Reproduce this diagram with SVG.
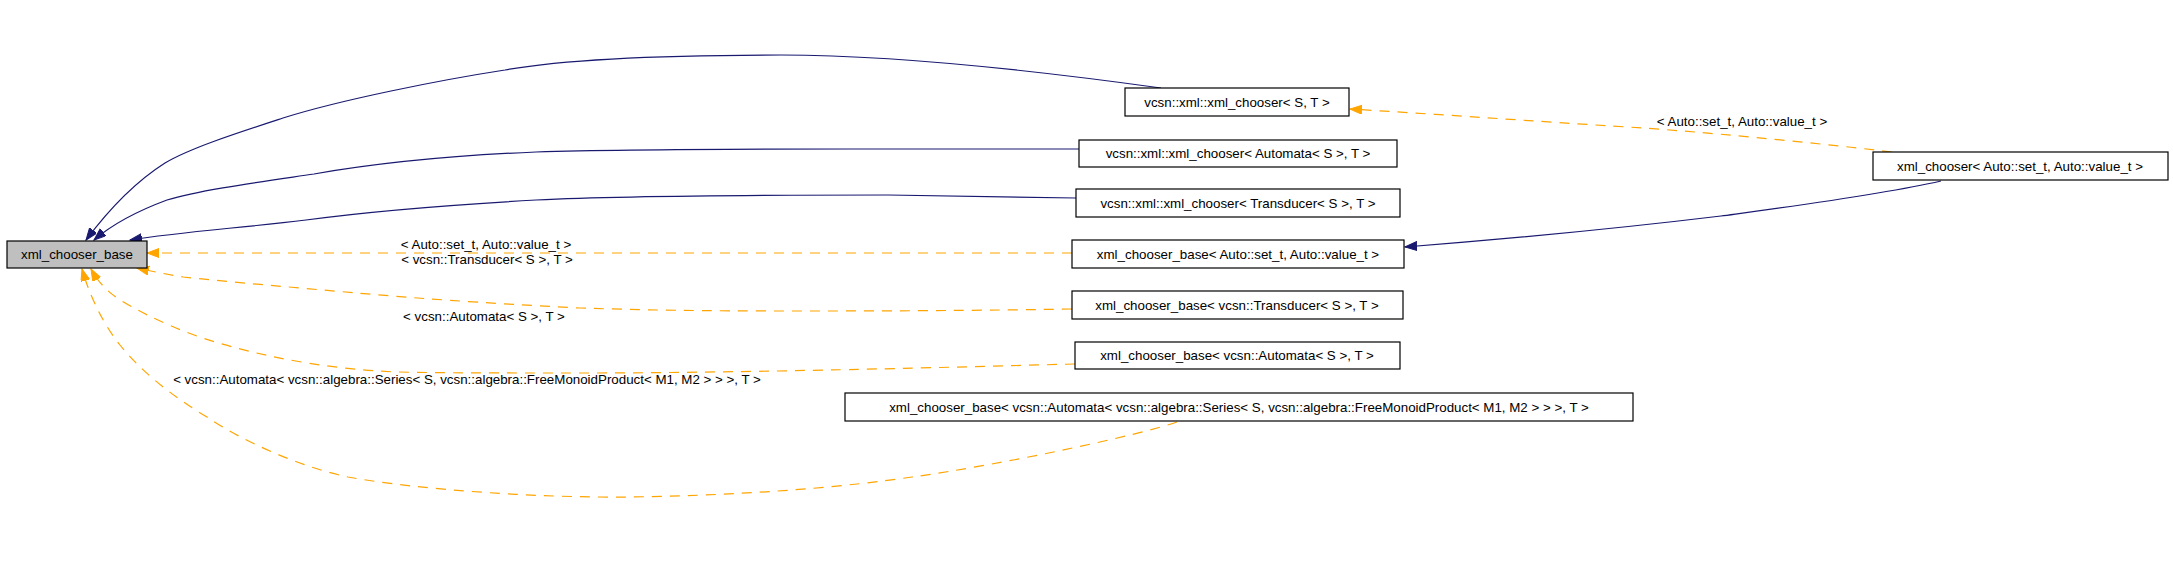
<svg xmlns="http://www.w3.org/2000/svg" width="2173" height="588" viewBox="0 0 2173 588">
<style>
.box{fill:#ffffff;stroke:#000000;stroke-width:1.2}
.root{fill:#bfbfbf;stroke:#000000;stroke-width:1.2}
.t{font-family:"Liberation Sans",Arial,sans-serif;font-size:13.33px;fill:#000000;text-anchor:middle}
.inh{fill:none;stroke:#191970;stroke-width:1.2;marker-end:url(#an)}
.tpl{fill:none;stroke:#ffa500;stroke-width:1.2;stroke-dasharray:10,8;marker-end:url(#ao)}
</style>
<defs>
<marker id="an" markerUnits="userSpaceOnUse" markerWidth="14" markerHeight="10" refX="12" refY="4.5" orient="auto"><path d="M0,0 L12,4.5 L0,9 z" fill="#191970" stroke="#191970"/></marker>
<marker id="ao" markerUnits="userSpaceOnUse" markerWidth="14" markerHeight="10" refX="12" refY="4.5" orient="auto"><path d="M0,0 L12,4.5 L0,9 z" fill="#ffa500" stroke="#ffa500"/></marker>
</defs>
<rect width="2173" height="588" fill="#ffffff"/>
<g id="edges">
<path class="inh" d="M1161,88 C1060,74 900,55 781,55 C660,55 560,60 505,70 C440,80 340,100 283,118 C240,132 190,148 165,163 C135,182 110,208 86,240"/>
<path class="inh" d="M1079,149 L849,149 C700,149 600,150 536,152 C440,156 360,166 314,174 C260,182 200,190 167,200 C140,210 115,222 94,240"/>
<path class="inh" d="M1076,198 L888,195 C750,195 620,196 536,200 C430,206 350,214 306,220 C240,228 180,232 130,240"/>
<path class="tpl" d="M1072,253 L147,253"/>
<path class="tpl" d="M1072,309 C950,311 850,311 796,311 C700,311 640,310 580,308 C480,303 400,297 357,293 C300,288 230,282 183,277 C165,274 150,271 137,268"/>
<path class="tpl" d="M1075,364 C960,367 880,369 829,370 C730,372 650,373 580,373 C500,373 440,373 398,372 C340,370 280,360 233,347 C190,336 150,318 120,300 C105,290 97,280 91,269"/>
<path class="tpl" d="M1177,422 C1140,435 1000,465 912,477 C850,486 760,495 630,497 C540,498 420,490 348,477 C300,467 240,440 207,417 C170,395 140,370 120,345 C100,320 88,290 82,269"/>
<path class="tpl" d="M1892,152 C1800,141 1700,132 1644,128 C1560,123 1450,115 1350,109"/>
<path class="inh" d="M1941,181 C1880,195 1780,208 1721,216 C1630,227 1520,238 1405,247"/>
<text class="t" x="486" y="249">&lt; Auto::set_t, Auto::value_t &gt;</text>
<text class="t" x="487" y="264">&lt; vcsn::Transducer&lt; S &gt;, T &gt;</text>
<text class="t" x="484" y="321">&lt; vcsn::Automata&lt; S &gt;, T &gt;</text>
<text class="t" x="467" y="384">&lt; vcsn::Automata&lt; vcsn::algebra::Series&lt; S, vcsn::algebra::FreeMonoidProduct&lt; M1, M2 &gt; &gt; &gt;, T &gt;</text>
<text class="t" x="1742" y="126">&lt; Auto::set_t, Auto::value_t &gt;</text>
</g>
<g id="node_base"><rect class="root" x="7" y="241" width="140" height="27"/><text class="t" x="77" y="259">xml_chooser_base</text></g>
<g id="node_xml_chooser_ST"><rect class="box" x="1125" y="88" width="224" height="28"/><text class="t" x="1237" y="107">vcsn::xml::xml_chooser&lt; S, T &gt;</text></g>
<g id="node_xml_chooser_automata"><rect class="box" x="1079" y="140" width="318" height="27"/><text class="t" x="1238" y="158">vcsn::xml::xml_chooser&lt; Automata&lt; S &gt;, T &gt;</text></g>
<g id="node_xml_chooser_transducer"><rect class="box" x="1076" y="189" width="324" height="28"/><text class="t" x="1238" y="208">vcsn::xml::xml_chooser&lt; Transducer&lt; S &gt;, T &gt;</text></g>
<g id="node_base_auto"><rect class="box" x="1072" y="240" width="332" height="28"/><text class="t" x="1238" y="259">xml_chooser_base&lt; Auto::set_t, Auto::value_t &gt;</text></g>
<g id="node_base_transducer"><rect class="box" x="1072" y="291" width="331" height="28"/><text class="t" x="1237" y="310">xml_chooser_base&lt; vcsn::Transducer&lt; S &gt;, T &gt;</text></g>
<g id="node_base_automata"><rect class="box" x="1075" y="342" width="325" height="27"/><text class="t" x="1237" y="360">xml_chooser_base&lt; vcsn::Automata&lt; S &gt;, T &gt;</text></g>
<g id="node_base_series"><rect class="box" x="845" y="393" width="788" height="28"/><text class="t" x="1239" y="412">xml_chooser_base&lt; vcsn::Automata&lt; vcsn::algebra::Series&lt; S, vcsn::algebra::FreeMonoidProduct&lt; M1, M2 &gt; &gt; &gt;, T &gt;</text></g>
<g id="node_xml_chooser_auto"><rect class="box" x="1873" y="152" width="295" height="28"/><text class="t" x="2020" y="171">xml_chooser&lt; Auto::set_t, Auto::value_t &gt;</text></g>
</svg>
